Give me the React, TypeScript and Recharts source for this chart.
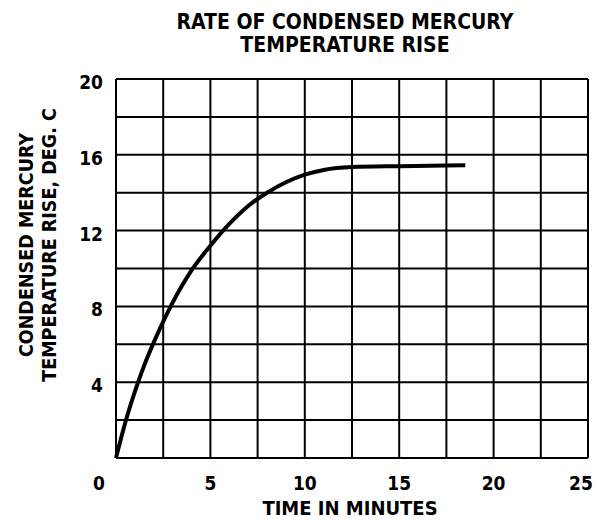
import React from 'react';
import { LineChart, Line, XAxis, YAxis, CartesianGrid } from 'recharts';

const timeMinutes = [0, 0.5, 1, 1.5, 2, 2.5, 3, 4, 5, 6, 7, 8, 9, 10, 11, 12.5, 15, 18.5];
const tempRise = [0, 1.9, 3.5, 4.9, 6.1, 7.2, 8.2, 9.9, 11.2, 12.35, 13.3, 14.0, 14.55, 14.95, 15.2, 15.35, 15.4, 15.45];

const xTicks = [0, 2.5, 5, 7.5, 10, 12.5, 15, 17.5, 20, 22.5, 25];
const yTicks = [0, 2, 4, 6, 8, 10, 12, 14, 16, 18, 20];
const xLabelled = [0, 5, 10, 15, 20, 25];
const yLabelled = [4, 8, 12, 16, 20];

const titleLines = ['RATE OF CONDENSED MERCURY', 'TEMPERATURE RISE'];
const yTitleLines = ['CONDENSED MERCURY', 'TEMPERATURE RISE, DEG. C'];
const xTitle = 'TIME IN MINUTES';

const data = timeMinutes.map((t, i) => ({ t, v: tempRise[i] }));

const FONT = "'DejaVu Sans Condensed', 'DejaVu Sans', sans-serif";
const textStyle: React.CSSProperties = { fontFamily: FONT, fontWeight: 'bold', fontStretch: 'condensed' };

const XTick = (props: any) => {
  const { x, y, payload } = props;
  const v = payload.value;
  if (!xLabelled.includes(v)) return <g />;
  const dx = v === 0 ? -17 : v === 25 ? -7 : 0;
  return (
    <text x={x + dx} y={y + 24} textAnchor="middle" fontSize={19} fill="#000" style={textStyle}>
      {v}
    </text>
  );
};

const YTick = (props: any) => {
  const { x, y, payload } = props;
  const v = payload.value;
  if (!yLabelled.includes(v)) return <g />;
  return (
    <text x={x - 5} y={y + 10} textAnchor="end" fontSize={19} fill="#000" style={textStyle}>
      {v}
    </text>
  );
};

const XTitle = (props: any) => {
  const vb = props.viewBox || {};
  const cx = vb.x + vb.width / 2 - 2;
  return (
    <text x={cx} y={515} textAnchor="middle" fontSize={20} fill="#000" style={textStyle}>
      {xTitle}
    </text>
  );
};

const YTitle = () => {
  const cy = 245;
  return (
    <g>
      <text transform={`translate(33, ${cy}) rotate(-90)`} textAnchor="middle" fontSize={19.5} fill="#000" style={textStyle}>
        {yTitleLines[0]}
      </text>
      <text transform={`translate(56, ${cy}) rotate(-90)`} textAnchor="middle" fontSize={19.5} fill="#000" style={textStyle}>
        {yTitleLines[1]}
      </text>
    </g>
  );
};

export default function App() {
  return (
    <div style={{ position: 'relative', width: 595, height: 522, background: '#fff' }}>
      <style>{`body{margin:0;background:#fff}`}</style>
      <LineChart width={595} height={522} data={data} margin={{ top: 79, right: 7, bottom: 0, left: 0 }}>
        <CartesianGrid stroke="#000" strokeWidth={2} />
        <XAxis
          dataKey="t"
          type="number"
          domain={[0, 25]}
          ticks={xTicks}
          interval={0}
          tickLine={false}
          axisLine={{ stroke: '#000', strokeWidth: 2 }}
          height={64}
          tick={<XTick />}
          label={{ content: <XTitle /> }}
        />
        <YAxis
          type="number"
          domain={[0, 20]}
          ticks={yTicks}
          interval={0}
          tickLine={false}
          axisLine={{ stroke: '#000', strokeWidth: 2 }}
          width={116}
          tick={<YTick />}
          label={{ content: <YTitle /> }}
        />
        <Line
          type="monotone"
          dataKey="v"
          stroke="#000"
          strokeWidth={4}
          dot={false}
          isAnimationActive={false}
        />
      </LineChart>
      <svg width={595} height={70} style={{ position: 'absolute', left: 0, top: 0, pointerEvents: 'none' }}>
        <text x={345} y={29} textAnchor="middle" fontSize={21} fill="#000" style={textStyle}>
          {titleLines[0]}
        </text>
        <text x={345} y={52} textAnchor="middle" fontSize={21} fill="#000" style={textStyle}>
          {titleLines[1]}
        </text>
      </svg>
    </div>
  );
}
